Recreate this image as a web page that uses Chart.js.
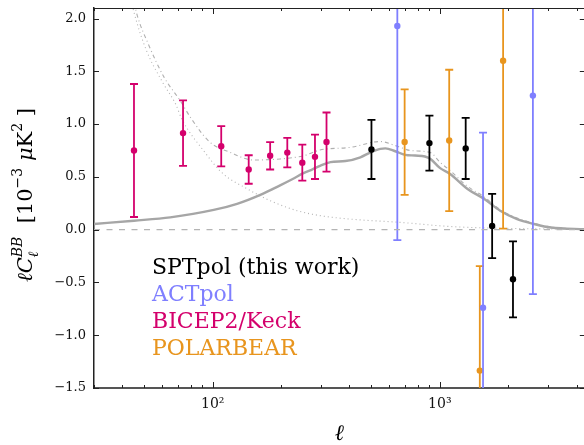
<!DOCTYPE html>
<html>
<head>
<meta charset="utf-8">
<script src="https://cdn.jsdelivr.net/npm/chart.js@4.4.1/dist/chart.umd.min.js"></script>
<style>
  html, body { margin: 0; padding: 0; background: #fff; overflow: hidden; }
  #wrap { width: 588px; height: 445px; position: relative; }
</style>
</head>
<body>
<div id="wrap"><canvas id="bbChart"></canvas></div>
<script>
// band powers (ell, ell*C_ell^BB in 1e-3 uK^2, 1-sigma error)
const sptEll = [500, 900, 1300, 1700, 2100];
const sptVal = [0.76, 0.82, 0.77, 0.035, -0.47];
const sptErr = [0.28, 0.26, 0.29, 0.305, 0.36];

const actEll = [650, 1550, 2570];
const actVal = [1.93, -0.74, 1.27];
const actErr = [2.03, 1.66, 1.88];

const bkEll = [45, 74, 109, 144, 179, 213, 248, 282, 317];
const bkVal = [0.75, 0.915, 0.79, 0.57, 0.70, 0.73, 0.635, 0.69, 0.83];
const bkErr = [0.63, 0.31, 0.19, 0.135, 0.13, 0.14, 0.17, 0.21, 0.28];

const pbEll = [700, 1100, 1500, 1900];
const pbVal = [0.83, 0.845, -1.335, 1.60];
const pbErr = [0.50, 0.67, 0.99, 1.59];

// theory curves
const lensEll = [30, 45, 65, 101, 128, 162, 198, 225, 251, 275, 297, 330, 384, 447, 495, 547, 576, 636, 704, 778, 860, 910, 1000, 1110, 1325, 1570, 1845, 2190, 2600, 3085, 4400];
const lensVal = [0.054, 0.085, 0.117, 0.187, 0.245, 0.33, 0.42, 0.48, 0.535, 0.572, 0.605, 0.64, 0.65, 0.686, 0.733, 0.766, 0.77, 0.743, 0.709, 0.702, 0.693, 0.67, 0.585, 0.528, 0.386, 0.29, 0.18, 0.10, 0.054, 0.02, 0.004];

const dustEll = [42, 45, 51, 60, 69, 73, 91, 111, 141, 179, 235, 297, 404, 670, 1110, 2000, 4400];
const dustVal = [2.35, 2.06, 1.70, 1.40, 1.18, 1.05, 0.75, 0.53, 0.39, 0.275, 0.18, 0.133, 0.10, 0.069, 0.03, 0.012, 0.004];

const totEll = [44, 46.5, 52, 61, 72, 80, 97, 119, 151, 198, 251, 297, 404, 547, 650, 742, 910, 1000, 1110, 1325, 1570, 1845, 2190, 2600, 3085, 4400];
const totVal = [2.25, 2.03, 1.76, 1.445, 1.22, 1.06, 0.83, 0.733, 0.66, 0.67, 0.70, 0.755, 0.78, 0.835, 0.79, 0.75, 0.73, 0.64, 0.56, 0.41, 0.31, 0.19, 0.11, 0.06, 0.025, 0.005];

// axes
const xRange = [30, 4350];
const yRange = [-1.5, 2.1];
const xMajor = [100, 1000];
const xMajorLabels = ['10²', '10³'];
const xMinor = [30, 40, 50, 60, 70, 80, 90, 200, 300, 400, 500, 600, 700, 800, 900, 2000, 3000, 4000];
const yTicks = [-1.5, -1.0, -0.5, 0.0, 0.5, 1.0, 1.5, 2.0];

const legendNames = ['SPTpol (this work)', 'ACTpol', 'BICEP2/Keck', 'POLARBEAR'];
const legendColors = ['#000000', '#7f7fff', '#d4006c', '#e8951e'];

const SERIF = '"DejaVu Serif", serif';

function pts(xs, ys) { return xs.map((v, i) => ({ x: v, y: ys[i] })); }

const groups = [
  { ell: sptEll, val: sptVal, err: sptErr, color: legendColors[0] },
  { ell: actEll, val: actVal, err: actErr, color: legendColors[1] },
  { ell: bkEll, val: bkVal, err: bkErr, color: legendColors[2] },
  { ell: pbEll, val: pbVal, err: pbErr, color: legendColors[3] },
];

// error bars drawn right before each point dataset
const errorBars = {
  id: 'errorBars',
  beforeDatasetDraw(chart, args) {
    const ds = chart.data.datasets[args.index];
    if (ds.group === undefined) return;
    const g = groups[ds.group];
    const { ctx, chartArea: a, scales: { x, y } } = chart;
    ctx.save();
    ctx.beginPath();
    ctx.rect(a.left, a.top, a.right - a.left, a.bottom - a.top);
    ctx.clip();
    ctx.strokeStyle = g.color;
    ctx.lineWidth = 1.8;
    g.ell.forEach((l, i) => {
      const px = x.getPixelForValue(l);
      const top = y.getPixelForValue(g.val[i] + g.err[i]);
      const bot = y.getPixelForValue(g.val[i] - g.err[i]);
      ctx.beginPath();
      ctx.moveTo(px, top); ctx.lineTo(px, bot);
      ctx.moveTo(px - 4, top); ctx.lineTo(px + 4, top);
      ctx.moveTo(px - 4, bot); ctx.lineTo(px + 4, bot);
      ctx.stroke();
    });
    ctx.restore();
  }
};

function drawYLabel(ctx, cx, cy) {
  const big = 21, small = 14;
  const it = s => `italic ${s}px ${SERIF}`;
  const rm = s => `${s}px ${SERIF}`;
  // segments: text, font, vertical shift; stacked pairs share an x
  const segs = [
    { t: 'ℓC', f: it(big), dy: 0 },
    { stack: [{ t: 'ℓ', f: it(small), dy: 6 }, { t: 'BB', f: it(small), dy: -10 }] },
    { t: '  [10', f: rm(big), dy: 0 },
    { t: '−3', f: rm(small), dy: -10 },
    { t: ' μ', f: it(big), dy: 0 },
    { t: 'K', f: rm(big), dy: 0 },
    { t: '2', f: rm(small), dy: -10 },
    { t: ' ]', f: rm(big), dy: 0 },
  ];
  let total = 0;
  const widths = segs.map(s => {
    let w;
    if (s.stack) {
      w = Math.max(...s.stack.map(p => { ctx.font = p.f; return ctx.measureText(p.t).width; }));
    } else { ctx.font = s.f; w = ctx.measureText(s.t).width; }
    total += w;
    return w;
  });
  ctx.save();
  ctx.translate(cx, cy);
  ctx.rotate(-Math.PI / 2);
  ctx.fillStyle = '#000';
  ctx.textBaseline = 'alphabetic';
  let xx = -total / 2;
  segs.forEach((s, i) => {
    const list = s.stack || [s];
    list.forEach(p => { ctx.font = p.f; ctx.fillText(p.t, xx, 8 + p.dy); });
    xx += widths[i];
  });
  ctx.restore();
}

const decor = {
  id: 'decor',
  afterDraw(chart) {
    const { ctx, chartArea: a, scales: { x, y } } = chart;
    ctx.save();
    // zero line
    ctx.strokeStyle = '#b4b4b4';
    ctx.lineWidth = 1.3;
    ctx.setLineDash([6, 6.5]);
    const y0 = y.getPixelForValue(0);
    ctx.beginPath(); ctx.moveTo(a.left, y0); ctx.lineTo(a.right, y0); ctx.stroke();
    ctx.setLineDash([]);

    // inward ticks
    ctx.strokeStyle = '#222';
    ctx.lineWidth = 1;
    ctx.beginPath();
    xMajor.forEach(v => {
      const p = Math.round(x.getPixelForValue(v)) + 0.5;
      ctx.moveTo(p, a.bottom); ctx.lineTo(p, a.bottom - 6);
      ctx.moveTo(p, a.top); ctx.lineTo(p, a.top + 6);
    });
    xMinor.forEach(v => {
      const p = Math.round(x.getPixelForValue(v)) + 0.5;
      ctx.moveTo(p, a.bottom); ctx.lineTo(p, a.bottom - 3);
      ctx.moveTo(p, a.top); ctx.lineTo(p, a.top + 3);
    });
    yTicks.forEach(v => {
      const p = Math.round(y.getPixelForValue(v)) + 0.5;
      ctx.moveTo(a.left, p); ctx.lineTo(a.left + 5, p);
      ctx.moveTo(a.right, p); ctx.lineTo(a.right - 5, p);
    });
    ctx.stroke();
    // top spine
    ctx.beginPath(); ctx.moveTo(a.left, a.top + 0.5); ctx.lineTo(a.right, a.top + 0.5); ctx.stroke();

    // legend text
    ctx.font = `22px ${SERIF}`;
    ctx.textBaseline = 'alphabetic';
    legendNames.forEach((n, i) => {
      ctx.fillStyle = legendColors[i];
      ctx.fillText(n, 152, 274 + i * 27);
    });

    // axis titles
    ctx.fillStyle = '#000';
    ctx.font = `italic 22px ${SERIF}`;
    ctx.textAlign = 'center';
    ctx.fillText('ℓ', (a.left + a.right) / 2, 440);
    ctx.textAlign = 'left';
    drawYLabel(ctx, 24, 195);
    ctx.restore();
  }
};

const pointSets = groups.map((g, i) => ({
  group: i,
  data: pts(g.ell, g.val),
  showLine: false,
  pointRadius: 3.2,
  pointHoverRadius: 3.2,
  pointBorderWidth: 0,
  backgroundColor: g.color,
  borderColor: g.color,
  clip: false,
}));

const curveBase = { showLine: true, pointRadius: 0, fill: false, cubicInterpolationMode: 'monotone' };

new Chart(document.getElementById('bbChart'), {
  type: 'scatter',
  data: {
    datasets: [
      pointSets[1], pointSets[0], pointSets[3], pointSets[2],
      { ...curveBase, data: pts(lensEll, lensVal), borderColor: '#a6a6a6', borderWidth: 2.4 },
      { ...curveBase, data: pts(totEll, totVal), borderColor: '#b0b0b0', borderWidth: 1.1, borderDash: [4, 3, 1, 3] },
      { ...curveBase, data: pts(dustEll, dustVal), borderColor: '#b4b4b4', borderWidth: 1.1, borderDash: [1, 3] },
    ]
  },
  options: {
    responsive: true,
    maintainAspectRatio: false,
    animation: false,
    layout: { padding: { top: 8, right: 0, left: 0, bottom: 0 } },
    plugins: { legend: { display: false }, tooltip: { enabled: false } },
    scales: {
      x: {
        type: 'logarithmic',
        min: xRange[0],
        max: xRange[1],
        afterBuildTicks: s => { s.ticks = xMajor.map(v => ({ value: v })); },
        afterFit: s => { s.height = 57; s.paddingLeft = 0; s.paddingRight = 0; },
        grid: { display: false, drawTicks: false },
        border: { display: true, color: '#555', width: 2 },
        ticks: {
          padding: 8,
          color: '#111',
          font: { family: SERIF, size: 14 },
          maxRotation: 0,
          callback: (v) => xMajorLabels[xMajor.indexOf(v)] || ''
        }
      },
      y: {
        min: yRange[0],
        max: yRange[1],
        afterBuildTicks: s => { s.ticks = yTicks.map(v => ({ value: v })); },
        afterFit: s => { s.width = 94; s.paddingTop = 0; s.paddingBottom = 0; },
        grid: { display: false, drawTicks: false },
        border: { display: true, color: '#222', width: 1.5 },
        ticks: {
          padding: 8,
          color: '#111',
          font: { family: SERIF, size: 13 },
          callback: v => (v < 0 ? '−' : '') + Math.abs(v).toFixed(1)
        }
      }
    }
  },
  plugins: [errorBars, decor]
});
</script>
</body>
</html>
